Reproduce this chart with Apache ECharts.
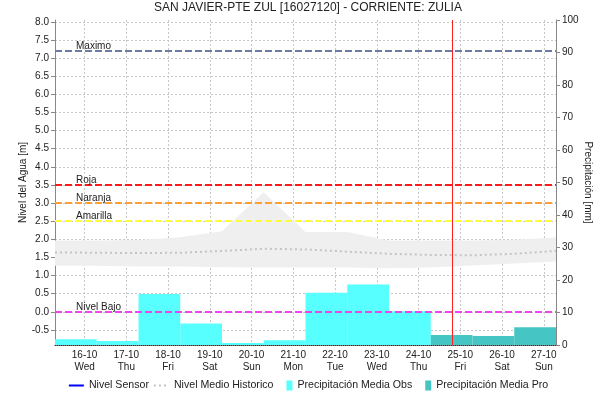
<!DOCTYPE html>
<html>
<head>
<meta charset="utf-8">
<script src="https://cdn.jsdelivr.net/npm/echarts@6/dist/echarts.min.js"></script>
<style>
  html, body { margin: 0; padding: 0; background: #fff; }
  #chart { width: 616px; height: 404px; }
</style>
</head>
<body>
<div id="chart"></div>
<script>
// precipitacion diaria (acumulado 7am a 7am del dia), mm
const precipDays = ['2024-10-16', '2024-10-17', '2024-10-18', '2024-10-19', '2024-10-20', '2024-10-21',
  '2024-10-22', '2024-10-23', '2024-10-24', '2024-10-25', '2024-10-26', '2024-10-27']
const precipObs = [1.8, 1.2, 15.7, 6.6, 0.6, 1.5, 16.1, 18.6, 10.4, null, null, null]
const precipPro = [null, null, null, null, null, null, null, null, null, 3.1, 2.8, 5.5]

// nivel historico (banda min-max y nivel medio), m
const histDates = ['2024-10-15', '2024-10-16', '2024-10-17', '2024-10-18', '2024-10-19', '2024-10-20', '2024-10-21',
  '2024-10-22', '2024-10-23', '2024-10-24', '2024-10-25', '2024-10-26', '2024-10-27']
const histMin = [1.27, 1.27, 1.25, 1.25, 1.23, 1.22, 1.22, 1.22, 1.2, 1.22, 1.28, 1.33, 1.39]
const histMax = [1.97, 1.97, 1.98, 2.06, 2.22, 3.3, 2.2, 2.2, 1.97, 1.97, 1.97, 1.99, 2.05]
const histMedio = [1.64, 1.63, 1.62, 1.63, 1.68, 1.74, 1.72, 1.66, 1.6, 1.57, 1.56, 1.6, 1.68]

// umbrales de alerta
const umbralNombres = ['Maximo', 'Roja', 'Naranja', 'Amarilla', 'Nivel Bajo']
const umbralValores = [7.2, 3.5, 3.0, 2.5, 0.0]
const umbralColores = ['#6b7ba6', '#ff1a1a', '#ffa033', '#ffff33', '#ee44ee']

const nivelTicks = [-0.5, 0, 0.5, 1, 1.5, 2, 2.5, 3, 3.5, 4, 4.5, 5, 5.5, 6, 6.5, 7, 7.5, 8]
const horaActual = '2024-10-24T19:15:00'
const inicio = '2024-10-15T07:00:00'
const fin = '2024-10-27T07:00:00'

const DAY = 86400000
const FONT = '"Liberation Sans", Arial, sans-serif'
const t = (d) => new Date(d + 'T07:00:00').getTime()

const barData = (values) => precipDays
  .map((d, i) => values[i] == null ? null : [t(d) - DAY, t(d), values[i]])
  .filter(Boolean)

const renderBar = (params, api) => {
  const p0 = api.coord([api.value(0), api.value(2)])
  const p1 = api.coord([api.value(1), 0])
  return {
    type: 'rect',
    shape: { x: p0[0], y: p0[1], width: p1[0] - p0[0], height: p1[1] - p0[1] },
    style: api.style()
  }
}

// icono de leyenda: rectangulo angosto pegado al texto
const rectIcon = 'path://M0,0M9,0h6v10h-6z'
const noSymbol = { color: 'transparent', borderWidth: 0, opacity: 0 }

const chart = echarts.init(document.getElementById('chart'))

const option = {
  animation: false,
  textStyle: { fontFamily: FONT },
  title: {
    text: 'SAN JAVIER-PTE ZUL [16027120] - CORRIENTE: ZULIA',
    left: 'center',
    top: 2,
    padding: 0,
    textStyle: { fontSize: 12, fontWeight: 'normal', color: '#222', fontFamily: FONT }
  },
  legend: {
    bottom: 8,
    left: 'center',
    itemWidth: 15,
    itemHeight: 10,
    itemGap: 4,
    textStyle: { fontSize: 10.6, color: '#222', fontFamily: FONT },
    data: [
      { name: 'Nivel Sensor', itemStyle: noSymbol },
      { name: 'Nivel Medio Historico', itemStyle: noSymbol },
      { name: 'Precipitación Media Obs', icon: rectIcon },
      { name: 'Precipitación Media Pro', icon: rectIcon }
    ]
  },
  grid: { left: 55, right: 60, top: 20, bottom: 59 },
  xAxis: {
    type: 'time',
    min: new Date(inicio).getTime(),
    max: new Date(fin).getTime(),
    minInterval: DAY,
    maxInterval: DAY,
    axisLine: { show: true, onZero: false, lineStyle: { color: '#333', type: [1, 1] } },
    axisTick: { show: false },
    axisLabel: {
      formatter: '{dd}-{MM}\n{ee}',
      showMinLabel: false,
      showMaxLabel: false,
      hideOverlap: false,
      fontSize: 10,
      lineHeight: 12,
      margin: 4,
      color: '#222'
    },
    splitLine: { show: true, lineStyle: { color: '#c8c8c8', type: [2, 2] } }
  },
  yAxis: [
    {
      type: 'value',
      position: 'left',
      min: -0.915,
      max: 8.05,
      name: 'Nivel del Agua [m]',
      nameLocation: 'middle',
      nameGap: 27,
      nameMoveOverlap: false,
      nameTextStyle: { fontSize: 10, color: '#222' },
      axisLine: { show: true, lineStyle: { color: '#888' } },
      axisTick: { show: true, customValues: nivelTicks, length: 4, lineStyle: { color: '#888' } },
      axisLabel: { customValues: nivelTicks, formatter: (v) => v.toFixed(1), fontSize: 10, color: '#222', margin: 6 },
      splitLine: { show: true, lineStyle: { color: '#c8c8c8', type: [2, 2] } }
    },
    {
      type: 'value',
      position: 'right',
      min: 0,
      max: 100,
      interval: 10,
      name: 'Precipitación [mm]',
      nameLocation: 'middle',
      nameGap: 27,
      nameRotate: -90,
      nameMoveOverlap: false,
      nameTextStyle: { fontSize: 10, color: '#222' },
      axisLine: { show: true, lineStyle: { color: '#888' } },
      axisTick: { show: true, length: 4, lineStyle: { color: '#888' } },
      axisLabel: { fontSize: 10, color: '#222', margin: 6 },
      splitLine: { show: false }
    }
  ],
  series: [
    {
      name: 'banda min',
      type: 'line',
      stack: 'banda',
      symbol: 'none',
      silent: true,
      lineStyle: { opacity: 0 },
      data: histDates.map((d, i) => [t(d), histMin[i]])
    },
    {
      name: 'banda max',
      type: 'line',
      stack: 'banda',
      symbol: 'none',
      silent: true,
      lineStyle: { opacity: 0 },
      areaStyle: { color: '#efefef', opacity: 1 },
      data: histDates.map((d, i) => [t(d), histMax[i] - histMin[i]])
    },
    {
      name: 'Nivel Medio Historico',
      type: 'line',
      symbol: 'none',
      color: '#c4c4c4',
      lineStyle: { color: '#c4c4c4', width: 2, type: [2, 3] },
      data: histDates.map((d, i) => [t(d), histMedio[i]])
    },
    {
      name: 'Precipitación Media Obs',
      type: 'custom',
      yAxisIndex: 1,
      renderItem: renderBar,
      encode: { x: [0, 1], y: 2 },
      itemStyle: { color: '#58ffff' },
      data: barData(precipObs)
    },
    {
      name: 'Precipitación Media Pro',
      type: 'custom',
      yAxisIndex: 1,
      renderItem: renderBar,
      encode: { x: [0, 1], y: 2 },
      itemStyle: { color: '#46c5c5' },
      data: barData(precipPro)
    },
    {
      name: 'Nivel Sensor',
      type: 'line',
      symbol: 'none',
      color: '#0000ff',
      lineStyle: { color: '#0000ff', width: 1.5 },
      data: [],
      markLine: {
        silent: true,
        symbol: 'none',
        data: umbralNombres.map((n, i) => ({
          yAxis: umbralValores[i],
          lineStyle: { color: umbralColores[i], width: 2, type: [7, 3] },
          label: {
            show: true,
            formatter: n,
            position: 'insideStartTop',
            distance: [21, 0],
            fontSize: 10,
            color: '#222'
          }
        })).concat([{
          xAxis: new Date(horaActual).getTime(),
          lineStyle: { color: '#ff2020', width: 1, type: 'solid' },
          label: { show: false }
        }])
      }
    }
  ]
}

chart.setOption(option)
</script>
</body>
</html>
